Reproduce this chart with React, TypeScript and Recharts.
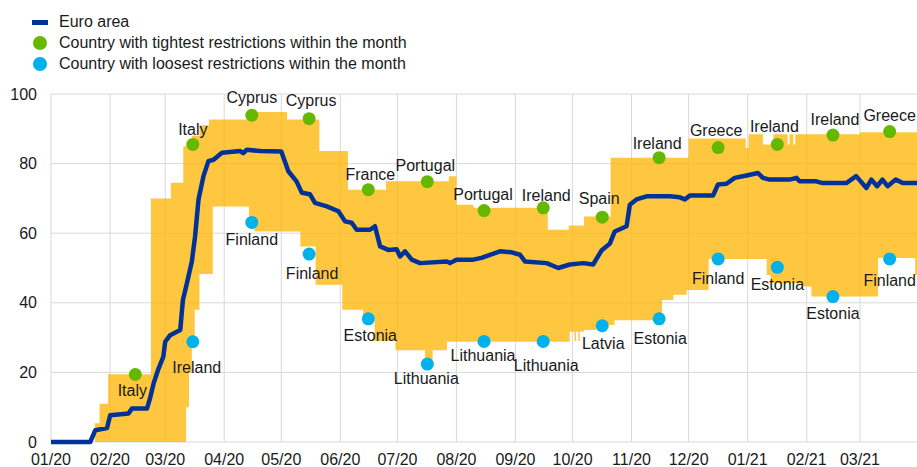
import { ComposedChart, Area, Line, Scatter, XAxis, YAxis, CartesianGrid } from "recharts";

// x = days since 1 Jan 2020
const monthTicks = [0, 31, 60, 91, 121, 152, 182, 213, 244, 274, 305, 335, 366, 397, 425];
const monthLabels = [
  "01/20", "02/20", "03/20", "04/20", "05/20", "06/20", "07/20", "08/20",
  "09/20", "10/20", "11/20", "12/20", "01/21", "02/21", "03/21",
];
const yTicks = [0, 20, 40, 60, 80, 100];

// Euro area stringency index [day, value]
const euroArea: [number, number][] = [
  [0, 0], [20.6, 0], [23.3, 3.4], [29.4, 4], [31.1, 7.7], [40.7, 8.2], [42.5, 9.6], [50.4, 9.6],
  [52, 12.5], [53.9, 16.8], [56.5, 21.1], [59, 24.5], [60, 28.8], [62.6, 30.7], [67.9, 32.2],
  [69.3, 40.8], [71.4, 45.6], [74, 51.9], [75.7, 59.1], [77.5, 69.7], [80.1, 76.4], [82.7, 80.7],
  [85.4, 81.1], [89.8, 83.1], [99.4, 83.6], [101, 83], [102.9, 84], [110, 83.6], [121, 83.5],
  [124.7, 77.8], [129, 74.9], [131.8, 71.6], [136, 71.2], [138.7, 68.7], [144.9, 67.7],
  [151, 66.3], [154.5, 63.4], [158, 63], [160.6, 61], [167.6, 61], [170.2, 62], [172.9, 56.2],
  [177.2, 55.2], [181.6, 55.4], [183.4, 53.3], [186, 54.8], [189.5, 52.4], [193.9, 51.4],
  [207.9, 51.9], [209.6, 51.4], [213, 52.4], [221.8, 52.4], [226.2, 52.9], [230.6, 53.8],
  [235.9, 54.8], [242, 54.5], [246.4, 53.8], [249, 51.9], [260.4, 51.4], [266.5, 50],
  [272.6, 51], [279.6, 51.4], [284.8, 51], [289.2, 55], [293.6, 57], [296.2, 60.5], [302.4, 62],
  [304.1, 68.2], [307.6, 69.7], [312.9, 70.6], [325.1, 70.6], [330.3, 70.3], [333, 69.7],
  [335.6, 70.8], [347.8, 70.8], [350.4, 74], [354.9, 74.2], [359.2, 75.9], [365.4, 76.6],
  [371.4, 77.3], [374, 75.9], [377.6, 75.4], [388, 75.4], [391.7, 75.9], [393.3, 74.9],
  [402, 74.9], [405.5, 74.4], [417.8, 74.4], [423, 76.4], [428.4, 73], [431, 75.4], [434, 73.5],
  [436.8, 75.4], [439.5, 73.5], [443.8, 75.4], [447.5, 74.4], [455, 74.4],
];

// Range across countries: step change points [day, value]
const bandUpper: [number, number][] = [
  [0, 0], [23, 5.4], [25.5, 11], [30, 19.5], [52.5, 70], [63, 74.5], [69.5, 85], [74, 88],
  [78, 91], [83, 92.7], [104, 94.8], [124, 92.7], [141, 83.6], [156, 72.5], [176, 74.9],
  [209, 76.4], [213, 68.2], [222, 67.3], [261, 61], [272, 62.2], [280, 64.8], [294, 81.7],
  [335, 87.2], [365, 84.5], [366.5, 88.4], [374, 85.5], [379.5, 88.4], [387, 85.5], [388, 88.4],
  [390, 85.5], [391, 88.4], [425, 89], [460, 89],
];
const bandLower: [number, number][] = [
  [0, 0], [71, 10], [72.5, 20], [74, 30], [75.5, 38], [78, 48.3], [85, 67.7], [104, 64],
  [107, 60.5], [131, 56.2], [139, 45.2], [153, 38], [164, 35.4], [170, 29], [181, 26.4],
  [196.5, 23.5], [200.5, 26.4], [208, 28.8], [272.5, 31.7], [275, 29], [275.8, 31.7], [277, 29],
  [277.8, 31.7], [280, 32.2], [286.5, 33.6], [296, 35], [321, 40.8], [327, 42.3], [334, 43.7],
  [345.5, 52.6], [376, 48], [378, 45.6], [395, 44.7], [399.5, 41.8], [434.5, 52.9], [454, 48],
  [460, 48],
];

// Country with tightest restrictions within the month
const tightDays = [44.3, 74.5, 105.5, 135.6, 166.7, 197.7, 227.5, 258.6, 289.6, 319.5, 350.5, 381.6, 410.8, 440.6];
const tightValues = [19.4, 85.5, 93.9, 92.9, 72.5, 74.8, 66.5, 67.3, 64.6, 81.7, 84.6, 85.5, 88.2, 89.2];
const tightCountries = [
  "Italy", "Italy", "Cyprus", "Cyprus", "France", "Portugal", "Portugal",
  "Ireland", "Spain", "Ireland", "Greece", "Ireland", "Ireland", "Greece",
];

// Country with loosest restrictions within the month
const looseDays = [74.5, 105.5, 135.6, 166.7, 197.7, 227.5, 258.6, 289.6, 319.5, 350.5, 381.6, 410.8, 440.6];
const looseValues = [28.8, 63.1, 54, 35.4, 22.4, 28.9, 28.9, 33.4, 35.4, 52.6, 50.2, 41.8, 52.6];
const looseCountries = [
  "Ireland", "Finland", "Finland", "Estonia", "Lithuania", "Lithuania", "Lithuania",
  "Latvia", "Estonia", "Finland", "Estonia", "Estonia", "Finland",
];

// label nudges [dx, dy] relative to the dot
const tightLabelOffset: [number, number][] = [
  [-3, 16], [0, -15], [0, -18], [2, -18], [2, -15], [-2, -16], [-1, -16],
  [3, -12], [-3, -19], [-2, -14], [-2, -17], [-3, -18], [2, -16], [0, -16],
];
const looseLabelOffset: [number, number][] = [
  [4, 26], [0, 17], [3, 19], [2, 17], [-1, 14], [-1, 14], [3, 24],
  [1, 18], [1, 20], [0, 20], [0, 17], [0, 17], [0, 22],
];

const FONT = "'Liberation Sans', Arial, sans-serif";
const BLUE = "#003299";
const GREEN = "#65B800";
const CYAN = "#00B1EA";
const TEXT = "#1a1a1a";

function stepAt(steps: [number, number][], day: number) {
  let v = steps[0][1];
  for (const [d, val] of steps) {
    if (d <= day) v = val;
    else break;
  }
  return v;
}

const euroMap = new Map(euroArea.map(([d, v]) => [d, v]));
const allDays = Array.from(
  new Set([...euroArea.map((p) => p[0]), ...bandUpper.map((p) => p[0]), ...bandLower.map((p) => p[0])])
).sort((a, b) => a - b);

const rows = allDays.map((day) => ({
  day,
  euro: euroMap.has(day) ? euroMap.get(day) : null,
  band: [stepAt(bandLower, day), stepAt(bandUpper, day)],
}));

const tightData = tightDays.map((day, i) => ({ day, value: tightValues[i], country: tightCountries[i], idx: i }));
const looseData = looseDays.map((day, i) => ({ day, value: looseValues[i], country: looseCountries[i], idx: i }));

function makeDot(color: string, offsets: [number, number][]) {
  return (props: any) => {
    const { cx, cy, payload } = props;
    if (cx == null || cy == null) return <g />;
    const [dx, dy] = offsets[payload.idx] || [0, 0];
    return (
      <g>
        <circle cx={cx} cy={cy} r={6.5} fill={color} />
        <text
          x={cx + dx}
          y={cy + dy}
          textAnchor="middle"
          dominantBaseline="central"
          fontSize={16}
          fontFamily={FONT}
          fill={TEXT}
        >
          {payload.country}
        </text>
      </g>
    );
  };
}

const legendRow = (top: number, icon: React.ReactNode, label: string) => (
  <div
    style={{
      position: "absolute",
      left: 30,
      top,
      height: 20,
      display: "flex",
      alignItems: "center",
      fontFamily: FONT,
      fontSize: 16,
      color: TEXT,
      whiteSpace: "nowrap",
    }}
  >
    <svg width={20} height={20} style={{ marginRight: 9 }}>
      {icon}
    </svg>
    {label}
  </div>
);

export default function App() {
  return (
    <div style={{ position: "absolute", left: 0, top: 0, width: 917, height: 467, overflow: "hidden", background: "#fff" }}>
      {legendRow(12, <rect x={2} y={8} width={16} height={5} fill={BLUE} />, "Euro area")}
      {legendRow(33, <circle cx={10} cy={10} r={7} fill={GREEN} />, "Country with tightest restrictions within the month")}
      {legendRow(54, <circle cx={10} cy={10} r={7} fill={CYAN} />, "Country with loosest restrictions within the month")}
      <ComposedChart
        width={938}
        height={467}
        data={rows}
        margin={{ top: 94, right: 0, bottom: 0, left: 0 }}
      >
        <CartesianGrid stroke="#d9d9d9" strokeWidth={1} />
        <XAxis
          dataKey="day"
          type="number"
          domain={[0, 466]}
          ticks={monthTicks}
          tickFormatter={(d: number) => monthLabels[monthTicks.indexOf(d)] ?? ""}
          interval={0}
          height={25}
          tickSize={0}
          tickMargin={12}
          axisLine={false}
          tick={{ fill: TEXT, fontSize: 16, fontFamily: FONT }}
        />
        <YAxis
          type="number"
          domain={[0, 100]}
          ticks={yTicks}
          width={51}
          tickSize={0}
          tickMargin={14}
          axisLine={false}
          tick={{ fill: TEXT, fontSize: 16, fontFamily: FONT }}
        />
        <Area
          dataKey="band"
          type="stepAfter"
          fill="#FFB400"
          fillOpacity={0.75}
          stroke="none"
          isAnimationActive={false}
          activeDot={false}
        />
        <Line
          dataKey="euro"
          type="linear"
          stroke={BLUE}
          strokeWidth={4.5}
          strokeLinejoin="round"
          dot={false}
          activeDot={false}
          connectNulls
          isAnimationActive={false}
        />
        <Scatter data={tightData} dataKey="value" shape={makeDot(GREEN, tightLabelOffset)} isAnimationActive={false} />
        <Scatter data={looseData} dataKey="value" shape={makeDot(CYAN, looseLabelOffset)} isAnimationActive={false} />
      </ComposedChart>
    </div>
  );
}
